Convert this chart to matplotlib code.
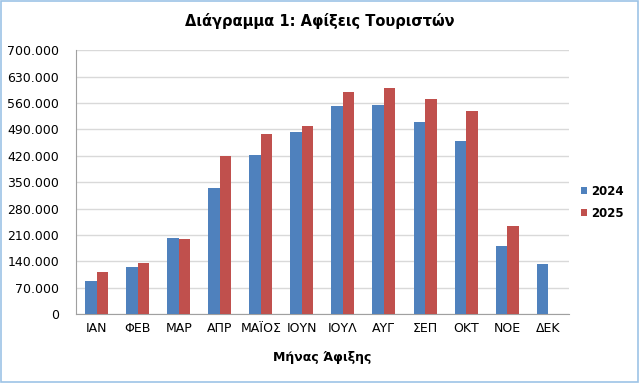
import numpy as np
import matplotlib.pyplot as plt
from matplotlib.ticker import FuncFormatter

# Μήνες και αφίξεις τουριστών
months = ['ΙΑΝ', 'ΦΕΒ', 'ΜΑΡ', 'ΑΠΡ', 'ΜΑΪΟΣ', 'ΙΟΥΝ', 'ΙΟΥΛ', 'ΑΥΓ', 'ΣΕΠ', 'ΟΚΤ', 'ΝΟΕ', 'ΔΕΚ']
arr_2024 = [88400, 125600, 201800, 334500, 421300, 482400, 552200, 555700, 509800, 459300, 179700, 133500]
arr_2025 = [112300, 134600, 200000, 419500, 478700, 499100, 589400, 600900, 570000, 539000, 234500, 0]
yticks = list(range(0, 700001, 70000))

plt.rcParams['font.family'] = 'DejaVu Sans'

fig = plt.figure(figsize=(6.39, 3.83), dpi=100)
ax = fig.add_axes([0.119, 0.180, 0.771, 0.689])

x = np.arange(len(months))
w = 0.28
ax.bar(x - w / 2, arr_2024, w, color='#4F81BD', label='2024', zorder=3)
ax.bar(x + w / 2, arr_2025, w, color='#C0504D', label='2025', zorder=3)

ax.set_xlim(-0.5, len(months) - 0.5)
ax.set_ylim(0, 700000)
ax.set_yticks(yticks)
ax.yaxis.set_major_formatter(FuncFormatter(lambda v, p: '0' if v == 0 else f'{int(v):,}'.replace(',', '.')))
ax.set_xticks(x)
ax.set_xticklabels(months)
ax.tick_params(axis='both', length=0, labelsize=9, pad=6)
ax.tick_params(axis='y', pad=12)
ax.grid(axis='y', color='#D9D9D9', linewidth=1, zorder=0)

for s in ['top', 'right']:
    ax.spines[s].set_visible(False)
ax.spines['left'].set_color('#A0A0A0')
ax.spines['bottom'].set_color('#A0A0A0')

ax.set_xlabel('Μήνας Άφιξης', fontsize=9, fontweight='bold', labelpad=11)
fig.text(0.5, 0.945, 'Διάγραμμα 1: Αφίξεις Τουριστών', ha='center', va='center',
         fontsize=10.5, fontweight='bold')

ax.legend(loc='center left', bbox_to_anchor=(1.0, 0.424), frameon=False,
          prop={'weight': 'bold', 'size': 8.5},
          handlelength=0.55, handleheight=0.55, handletextpad=0.35, labelspacing=0.75,
          borderaxespad=0.6)

fig.patches.append(plt.Rectangle((0.002, 0.003), 0.996, 0.994, transform=fig.transFigure,
                                 fill=False, edgecolor='#9DC3E6', linewidth=1.2))

fig.savefig('out.png', dpi=100)
